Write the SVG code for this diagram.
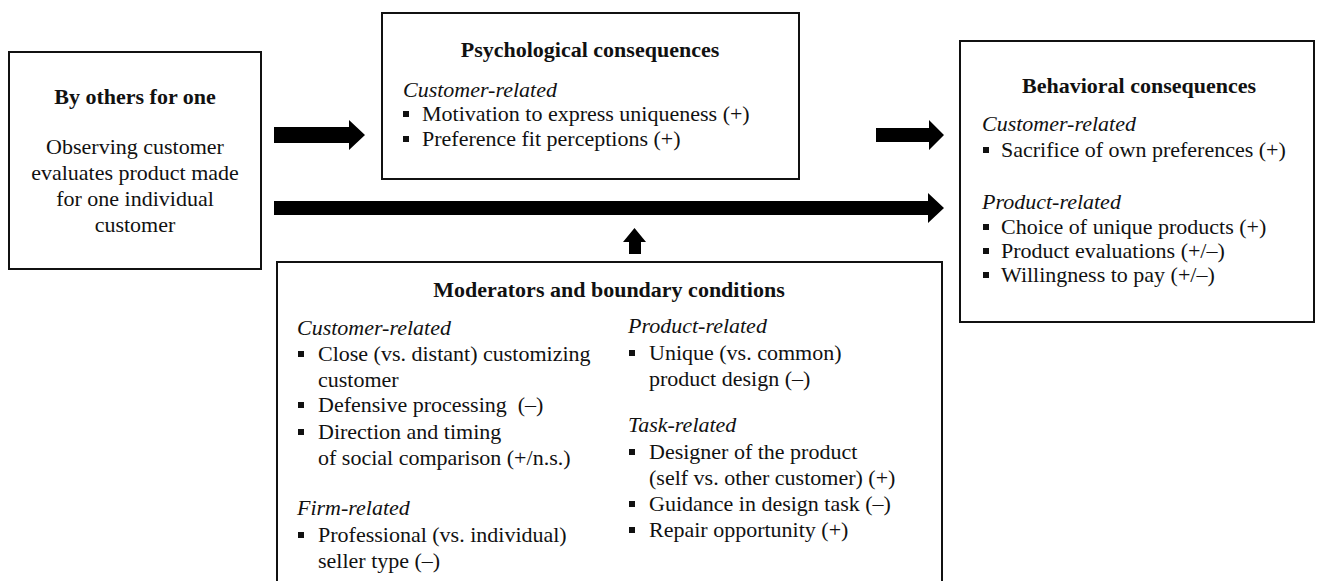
<svg xmlns="http://www.w3.org/2000/svg" width="1317" height="581" viewBox="0 0 1317 581">
  <style>
    .box { fill: #fff; stroke: #111; stroke-width: 2; }
    text { font-family: "Liberation Serif", "Times New Roman", serif; font-size: 22px; fill: #111; }
    .title { font-weight: bold; text-anchor: middle; }
    .c { text-anchor: middle; }
    .cat { font-style: italic; }
    .arrow { fill: #000; }
  </style>
  <defs>
    <rect id="bullet" x="0" y="-10" width="6" height="6" fill="#111"/>
  </defs>

  <rect width="1317" height="581" fill="#fff"/>

  <g id="connectors">
    <!-- source to psychological consequences -->
    <polygon class="arrow" points="274,127 349,127 349,120 365,135 349,150 349,143 274,143"/>
    <!-- psychological to behavioral consequences -->
    <polygon class="arrow" points="876,128 929,128 929,120 944,135 929,150 929,142 876,142"/>
    <!-- direct path source to behavioral consequences -->
    <polygon class="arrow" points="274,201 928,201 928,193 944,208 928,223 928,215 274,215"/>
    <!-- moderators acting on the direct path -->
    <polygon class="arrow" points="629,254 629,242 623,242 634.5,228 646,242 641,242 641,254"/>
  </g>

  <g id="node-source">
    <rect class="box" x="9" y="52" width="252" height="217"/>
    <text class="title" x="135" y="104">By others for one</text>
    <text class="c" x="135" y="154">Observing customer</text>
    <text class="c" x="135" y="180">evaluates product made</text>
    <text class="c" x="135" y="206">for one individual</text>
    <text class="c" x="135" y="232">customer</text>
  </g>

  <g id="node-psychological">
    <rect class="box" x="382" y="13" width="417" height="166"/>
    <text class="title" x="590" y="57">Psychological consequences</text>
    <text class="cat" x="403" y="97">Customer-related</text>
    <use href="#bullet" x="403" y="121"/>
    <text x="422" y="121">Motivation to express uniqueness (+)</text>
    <use href="#bullet" x="403" y="146"/>
    <text x="422" y="146">Preference fit perceptions (+)</text>
  </g>

  <g id="node-behavioral">
    <rect class="box" x="960" y="41" width="354" height="281"/>
    <text class="title" x="1139" y="93">Behavioral consequences</text>
    <text class="cat" x="982" y="131">Customer-related</text>
    <use href="#bullet" x="983" y="157"/>
    <text x="1001" y="157">Sacrifice of own preferences (+)</text>
    <text class="cat" x="982" y="209">Product-related</text>
    <use href="#bullet" x="983" y="234"/>
    <text x="1001" y="234">Choice of unique products (+)</text>
    <use href="#bullet" x="983" y="258"/>
    <text x="1001" y="258">Product evaluations (+/–)</text>
    <use href="#bullet" x="983" y="282"/>
    <text x="1001" y="282">Willingness to pay (+/–)</text>
  </g>

  <g id="node-moderators">
    <rect class="box" x="277" y="262" width="665" height="330"/>
    <text class="title" x="609" y="297">Moderators and boundary conditions</text>

    <text class="cat" x="297" y="335">Customer-related</text>
    <use href="#bullet" x="298" y="361"/>
    <text x="318" y="361">Close (vs. distant) customizing</text>
    <text x="318" y="387">customer</text>
    <use href="#bullet" x="298" y="412"/>
    <text x="318" y="412">Defensive processing&#160; (–)</text>
    <use href="#bullet" x="298" y="439"/>
    <text x="318" y="439">Direction and timing</text>
    <text x="318" y="465">of social comparison (+/n.s.)</text>
    <text class="cat" x="297" y="515">Firm-related</text>
    <use href="#bullet" x="298" y="542"/>
    <text x="318" y="542">Professional (vs. individual)</text>
    <text x="318" y="568">seller type (–)</text>

    <text class="cat" x="628" y="333">Product-related</text>
    <use href="#bullet" x="629" y="360"/>
    <text x="649" y="360">Unique (vs. common)</text>
    <text x="649" y="386">product design (–)</text>
    <text class="cat" x="628" y="432">Task-related</text>
    <use href="#bullet" x="629" y="459"/>
    <text x="649" y="459">Designer of the product</text>
    <text x="649" y="485">(self vs. other customer) (+)</text>
    <use href="#bullet" x="629" y="511"/>
    <text x="649" y="511">Guidance in design task (–)</text>
    <use href="#bullet" x="629" y="537"/>
    <text x="649" y="537">Repair opportunity (+)</text>
  </g>
</svg>
